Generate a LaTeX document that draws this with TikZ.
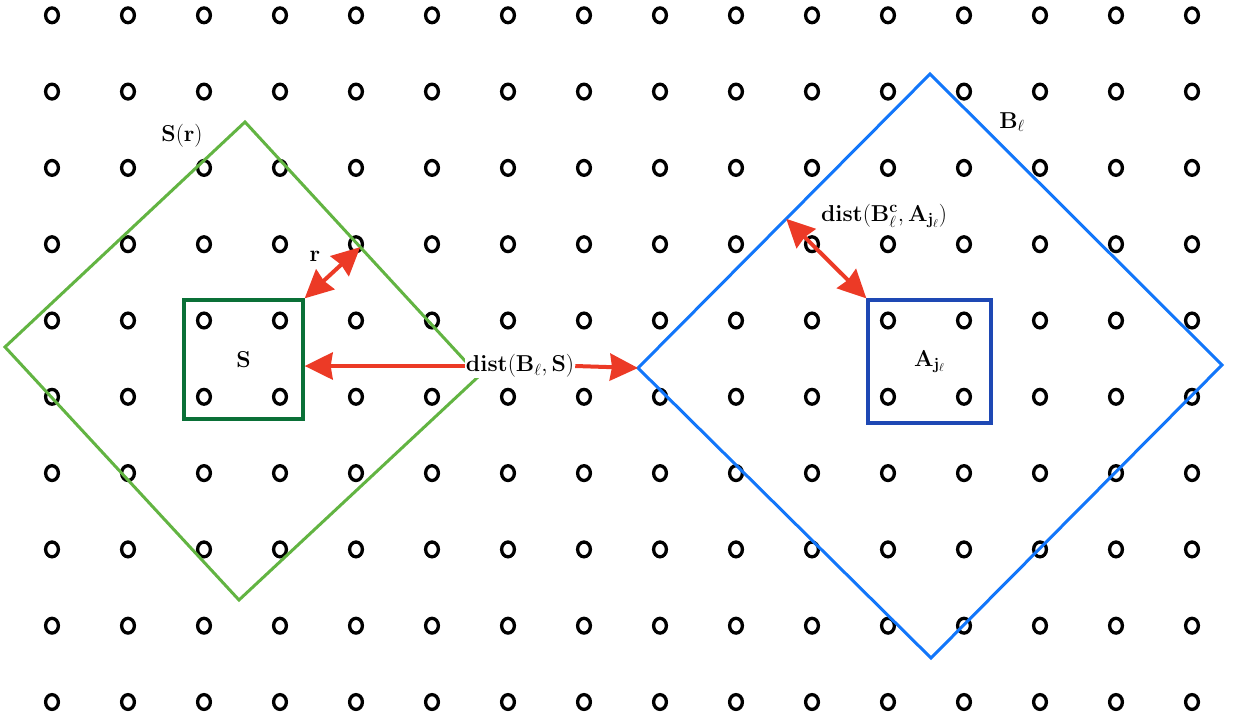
\documentclass[tikz,border=0pt]{standalone}
\usepackage{fix-cm}
\usetikzlibrary{arrows.meta,calc}
\definecolor{lgreen}{RGB}{98,180,66}
\definecolor{dgreen}{RGB}{10,112,55}
\definecolor{lblue}{RGB}{18,118,250}
\definecolor{dblue}{RGB}{30,72,180}
\definecolor{arrred}{RGB}{236,58,38}
\tikzset{
  site/.style={draw=black, line width=3.3pt},
  ballgreen/.style={draw=lgreen, line width=3pt, line join=miter},
  ballblue/.style={draw=lblue, line width=3pt, line join=miter},
  boxS/.style={draw=dgreen, line width=3.3pt, minimum width=119pt, minimum height=119pt, inner sep=0pt},
  boxA/.style={draw=dblue, line width=3.3pt, minimum width=123pt, minimum height=123pt, inner sep=0pt},
  lbl/.style={font=\fontsize{23}{27}\selectfont, inner sep=1pt},
  redarrow/.style={draw=arrred, line width=4pt, {Stealth[length=28pt,width=27pt,inset=2pt]}-{Stealth[length=28pt,width=27pt,inset=2pt]}},
  redtip/.style={draw=arrred, line width=4pt, -{Stealth[length=28pt,width=27pt,inset=2pt]}}
}
\begin{document}
\begin{tikzpicture}[x=1pt,y=-1pt]
\useasboundingbox (0,0) rectangle (1234,721);
% lattice sites
\foreach \i in {0,...,15} {
  \foreach \j in {0,...,9} {
    \draw[site] (52+76*\i, 15.3+76.3*\j) ellipse [x radius=6.4pt, y radius=7.4pt];
  }
}
% green ball S(r)
\coordinate (Gt) at (245,122);
\coordinate (Gl) at (5,347);
\coordinate (Gb) at (239,600);
\coordinate (Gr) at (479,376);
\draw[ballgreen] (Gt) -- (Gr) -- (Gb) -- (Gl) -- cycle;
% blue ball B_l
\coordinate (Bt) at (930,74);
\coordinate (Bl) at (638,368);
\coordinate (Bb) at (931,658);
\coordinate (Br) at (1222,365);
\draw[ballblue] (Bt) -- (Br) -- (Bb) -- (Bl) -- cycle;
% boxes
\node[boxS, lbl] (S) at (243.5,359.5) {$\mathbf{S}$};
\node[boxA, lbl] (A) at (929.5,361.5) {$\mathbf{A}_{\mathbf{j}_\ell}$};
% labels
\node[lbl] (Sr) at (182,136) {$\mathbf{S}(\mathbf{r})$};
\node[lbl] (Blab) at (1012,122) {$\mathbf{B}_\ell$};
\node[lbl] (rlab) at (315,256) {$\mathbf{r}$};
\node[lbl] (dAlab) at (884,216) {$\mathbf{dist}(\mathbf{B}^{\mathbf{c}}_\ell,\mathbf{A}_{\mathbf{j}_\ell})$};
% arrows
\coordinate (rtip) at ($(Gt)!(S.north east)!(Gr)$);
\draw[redarrow] (S.north east) -- (rtip);
\coordinate (atip) at ($(Bl)!(A.north west)!(Bt)$);
\draw[redarrow] (A.north west) -- (atip);
\node[lbl, fill=white] (dS) at (520,366) {$\mathbf{dist}(\mathbf{B}_\ell,\mathbf{S})$};
\draw[redtip] (dS.west) -- (dS.west -| S.east);
\draw[redtip] (dS.east) -- (Bl);
\end{tikzpicture}
\end{document}
